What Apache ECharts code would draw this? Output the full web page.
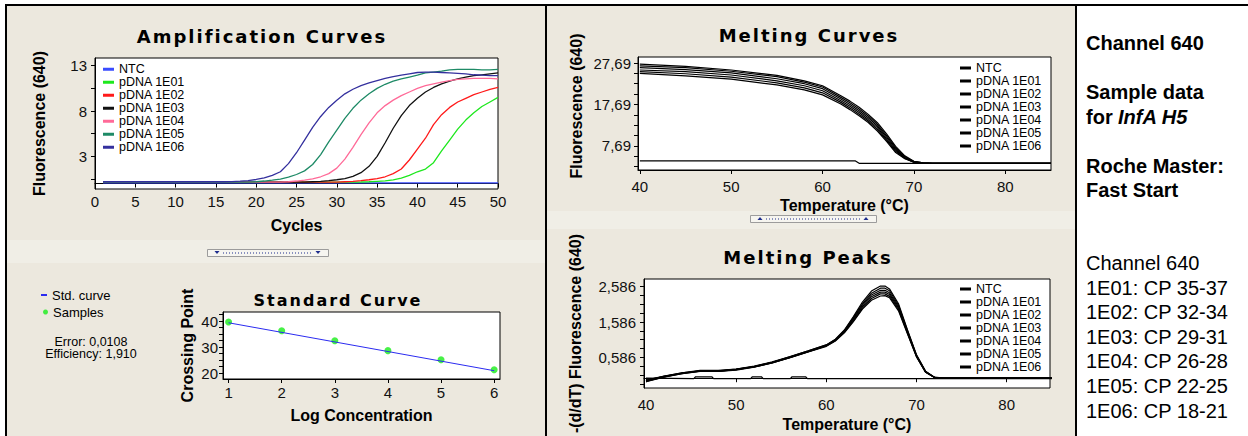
<!DOCTYPE html>
<html>
<head>
<meta charset="utf-8">
<title>InfA H5 - Channel 640</title>
<script src="https://cdn.jsdelivr.net/npm/echarts@6/dist/echarts.min.js"></script>
<style>
html, body { margin: 0; padding: 0; background: #fff; }
#chart { width: 1248px; height: 436px; }
/* panel titles are letter-spaced like the LightCycler software */
#chart text[style*="DejaVu"] { letter-spacing: 2px; }
</style>
</head>
<body>
<div id="chart"></div>
<script>
// ---- amplification (fluorescence per cycle) ----
var cycles = [1,2,3,4,5,6,7,8,9,10,11,12,13,14,15,16,17,18,19,20,
  21,22,23,24,25,26,27,28,29,30,31,32,33,34,35,36,37,38,39,40,
  41,42,43,44,45,46,47,48,49,50];
var sampleNames = ['NTC', 'pDNA 1E01', 'pDNA 1E02', 'pDNA 1E03', 'pDNA 1E04', 'pDNA 1E05', 'pDNA 1E06'];

var ampNtc = [0.08,0.08,0.08,0.08,0.08,0.08,0.08,0.08,0.08,0.08,
  0.08,0.08,0.08,0.08,0.08,0.08,0.08,0.08,0.08,0.08,
  0.08,0.08,0.08,0.08,0.08,0.08,0.08,0.08,0.08,0.08,
  0.08,0.08,0.08,0.08,0.08,0.08,0.08,0.08,0.08,0.08,
  0.08,0.08,0.08,0.08,0.08,0.08,0.08,0.08,0.08,0.08];
var amp1E01 = [0.15,0.15,0.15,0.15,0.15,0.15,0.15,0.15,0.15,0.15,
  0.15,0.15,0.15,0.15,0.15,0.15,0.15,0.15,0.15,0.15,
  0.15,0.15,0.15,0.15,0.15,0.15,0.15,0.15,0.15,0.15,
  0.15,0.15,0.17,0.2,0.25,0.3,0.4,0.6,0.9,1.3,
  1.6,2.3,3.6,4.8,6.0,7.0,7.8,8.5,9.0,9.5];
var amp1E02 = [0.15,0.15,0.15,0.15,0.15,0.15,0.15,0.15,0.15,0.15,
  0.15,0.15,0.15,0.15,0.15,0.15,0.15,0.15,0.15,0.15,
  0.15,0.15,0.15,0.15,0.15,0.15,0.15,0.15,0.15,0.15,
  0.2,0.25,0.32,0.42,0.55,0.75,1.1,1.6,2.6,3.8,
  5.0,6.5,7.6,8.4,9.0,9.4,9.8,10.1,10.4,10.6];
var amp1E03 = [0.15,0.15,0.15,0.15,0.15,0.15,0.15,0.15,0.15,0.15,
  0.15,0.15,0.15,0.15,0.15,0.15,0.15,0.15,0.15,0.15,
  0.15,0.15,0.15,0.15,0.15,0.15,0.2,0.25,0.32,0.42,
  0.55,0.8,1.2,1.9,3.0,4.5,6.1,7.5,8.6,9.4,
  10.1,10.6,11.0,11.3,11.55,11.75,11.9,12.0,12.1,12.2];
var amp1E04 = [0.15,0.15,0.15,0.15,0.15,0.15,0.15,0.15,0.15,0.15,
  0.15,0.15,0.15,0.15,0.15,0.15,0.15,0.15,0.15,0.15,
  0.15,0.15,0.15,0.2,0.28,0.38,0.52,0.75,1.1,1.7,
  2.7,4.0,5.4,6.7,7.8,8.6,9.2,9.7,10.1,10.5,
  10.8,11.0,11.2,11.35,11.5,11.55,11.6,11.6,11.6,11.55];
var amp1E05 = [0.15,0.15,0.15,0.15,0.15,0.15,0.15,0.15,0.15,0.15,
  0.15,0.15,0.15,0.15,0.15,0.15,0.15,0.15,0.15,0.2,
  0.28,0.38,0.5,0.7,1.0,1.4,2.1,3.2,4.6,5.9,
  7.2,8.3,9.2,9.9,10.5,10.95,11.3,11.55,11.75,11.95,
  12.2,12.3,12.4,12.55,12.6,12.6,12.6,12.55,12.55,12.6];
var amp1E06 = [0.2,0.2,0.2,0.2,0.2,0.2,0.2,0.2,0.2,0.2,
  0.2,0.2,0.2,0.2,0.2,0.2,0.22,0.26,0.33,0.45,
  0.62,0.9,1.3,2.2,3.4,4.8,6.2,7.4,8.4,9.2,
  9.9,10.4,10.8,11.1,11.35,11.6,11.8,11.95,12.1,12.25,
  12.3,12.3,12.25,12.2,12.15,12.1,12.0,11.95,11.9,11.9];

// ---- standard curve ----
var logConc = [1, 2, 3, 4, 5, 6];
var crossingPoints = [39.73, 36.29, 32.47, 28.64, 25.1, 21.26];
var stdLineX = [1, 6];
var stdLineY = [39.4, 20.9];
var stdError = '0,0108';
var stdEfficiency = '1,910';

// ---- melting curves ----
var meltTemps = [40, 45, 50, 55, 58, 60, 62, 63, 64, 65, 66, 67, 68, 69, 70, 71, 72, 75, 80, 85];
var meltNtcTemps = [40, 63.6, 64, 85];
var meltNtc = [4.07, 4.07, 3.5, 3.5];
var melt1E01 = [27.4, 26.9, 26.0, 24.7, 23.4, 22.2, 19.8, 18.5, 17.0, 15.3, 13.3, 10.6, 7.6, 5.3, 4.0, 3.6, 3.5, 3.5, 3.5, 3.5];
var melt1E02 = [27.0, 26.6, 25.7, 24.4, 23.1, 21.9, 19.4, 18.1, 16.6, 14.9, 12.9, 10.2, 7.3, 5.1, 3.9, 3.6, 3.5, 3.5, 3.5, 3.5];
var melt1E03 = [26.6, 26.1, 25.3, 23.9, 22.7, 21.5, 19.0, 17.7, 16.2, 14.5, 12.5, 9.8, 7.0, 4.9, 3.9, 3.6, 3.5, 3.5, 3.5, 3.5];
var melt1E04 = [26.0, 25.6, 24.8, 23.4, 22.2, 21.0, 18.6, 17.25, 15.75, 14.05, 12.1, 9.4, 6.7, 4.8, 3.8, 3.55, 3.5, 3.5, 3.5, 3.5];
var melt1E05 = [25.6, 25.1, 24.3, 22.9, 21.7, 20.5, 18.2, 16.85, 15.35, 13.7, 11.7, 9.1, 6.4, 4.7, 3.8, 3.55, 3.5, 3.5, 3.5, 3.5];
var melt1E06 = [25.2, 24.6, 23.8, 22.4, 21.2, 20.0, 17.8, 16.45, 14.95, 13.35, 11.3, 8.8, 6.1, 4.6, 3.8, 3.5, 3.5, 3.5, 3.5, 3.5];

// ---- melting peaks (-d/dT) ----
var peakTemps = [40, 42, 44, 46, 48, 50, 52, 54, 56, 58, 60, 61, 62, 63, 64, 65, 66, 66.5, 67, 68, 69, 70, 71, 72, 73, 75, 80, 85];
var peakNtcTemps = [40, 45.3, 45.5, 47.3, 47.5, 51.6, 51.8, 52.8, 53, 56, 56.2, 57.7, 57.9, 85];
var peakNtc = [0.0, -0.01, 0.04, 0.04, -0.01, -0.01, 0.04, 0.04, -0.01, -0.01, 0.04, 0.04, -0.01, -0.01];
var peak1E01 = [-0.05, 0.06, 0.15, 0.22, 0.22, 0.26, 0.34, 0.46, 0.61, 0.77, 0.94, 1.1, 1.36, 1.74, 2.15, 2.46, 2.6, 2.6, 2.52, 2.1, 1.36, 0.66, 0.2, 0.03, 0, 0, 0, 0];
var peak1E02 = [-0.06, 0.05, 0.15, 0.21, 0.21, 0.26, 0.33, 0.45, 0.61, 0.77, 0.94, 1.09, 1.35, 1.71, 2.1, 2.4, 2.54, 2.54, 2.47, 2.06, 1.34, 0.65, 0.19, 0.02, 0, 0, 0, 0];
var peak1E03 = [-0.07, 0.05, 0.14, 0.21, 0.2, 0.25, 0.33, 0.45, 0.6, 0.76, 0.93, 1.08, 1.33, 1.68, 2.06, 2.35, 2.48, 2.48, 2.41, 2.02, 1.31, 0.63, 0.18, 0.02, 0, 0, 0, 0];
var peak1E04 = [-0.08, 0.04, 0.14, 0.2, 0.2, 0.24, 0.32, 0.44, 0.59, 0.75, 0.92, 1.07, 1.31, 1.65, 2.02, 2.3, 2.43, 2.43, 2.36, 1.98, 1.29, 0.62, 0.18, 0.02, 0, 0, 0, 0];
var peak1E05 = [-0.09, 0.04, 0.13, 0.2, 0.19, 0.24, 0.32, 0.43, 0.59, 0.75, 0.91, 1.06, 1.3, 1.62, 1.98, 2.25, 2.38, 2.38, 2.31, 1.94, 1.27, 0.61, 0.17, 0.02, 0, 0, 0, 0];
var peak1E06 = [-0.1, 0.03, 0.13, 0.19, 0.19, 0.23, 0.31, 0.43, 0.58, 0.74, 0.9, 1.05, 1.28, 1.6, 1.95, 2.2, 2.32, 2.33, 2.27, 1.9, 1.25, 0.6, 0.17, 0.02, 0, 0, 0, 0];

// ---- tick labels ----
var ampXTicks = [0, 5, 10, 15, 20, 25, 30, 35, 40, 45, 50];
var ampYLabels = [3, 8, 13];
var ampYTicks = [0.5, 3, 5.5, 8, 10.5, 13];
var stdXTicks = [1, 2, 3, 4, 5, 6];
var stdYLabels = [20, 30, 40];
var stdYTicks = [20, 22.5, 25, 27.5, 30, 32.5, 35, 37.5, 40, 42.5];
var tempTicks = [40, 50, 60, 70, 80];
var meltYLabels = [7.69, 17.69, 27.69];
var meltYTicks = [2.69, 5.19, 7.69, 10.19, 12.69, 15.19, 17.69, 20.19, 22.69, 25.19, 27.69];
var peakYLabels = [0.586, 1.586, 2.586];
var peakYTicks = [-0.164, 0.086, 0.336, 0.586, 0.836, 1.086, 1.336, 1.586, 1.836, 2.086, 2.336, 2.586];

// ---- side notes ----
var notesBold = ['Channel 640', 'Sample data', 'for ', 'Roche Master:', 'Fast Start'];
var notesPlain = ['Channel 640', '1E01: CP 35-37', '1E02: CP 32-34', '1E03: CP 29-31', '1E04: CP 26-28', '1E05: CP 22-25', '1E06: CP 18-21'];

var ampColors = ['#3a4cff', '#1ee81e', '#ff1a1a', '#111111', '#ff6a98', '#1e8a66', '#34309e'];
var beige = '#ECE8DE';
var FONT = 'Liberation Sans';

function pairs(xs, ys) {
  return xs.map(function (x, i) { return [x, ys[i]]; });
}
function comma(v) { return String(v).replace('.', ','); }

function axis(gridIndex, min, max, labels, ticks, name, nameGap, margin, extra) {
  var a = {
    type: 'value', gridIndex: gridIndex, min: min, max: max,
    name: name, nameLocation: 'middle', nameGap: nameGap,
    nameTextStyle: { fontFamily: FONT, fontWeight: 'bold', fontSize: 16, color: '#000' },
    axisLine: { show: true, lineStyle: { color: '#000', width: 1 } },
    axisTick: { show: true, length: 4, customValues: ticks, lineStyle: { color: '#000' } },
    axisLabel: { show: true, margin: margin, customValues: labels, fontFamily: FONT, fontSize: 15, color: '#111' },
    splitLine: { show: false }
  };
  if (extra) {
    Object.keys(extra).forEach(function (k) {
      a[k] = Object.assign({}, a[k] || {}, extra[k]);
    });
  }
  return a;
}

function lineSeries(name, x, y, data, color, width) {
  return {
    type: 'line', name: name, xAxisIndex: x, yAxisIndex: y, data: data,
    showSymbol: false, silent: true, animation: false,
    lineStyle: { color: color, width: width }, itemStyle: { color: color }
  };
}

var ampValues = [ampNtc, amp1E01, amp1E02, amp1E03, amp1E04, amp1E05, amp1E06];
var meltValues = [melt1E01, melt1E02, melt1E03, melt1E04, melt1E05, melt1E06];
var peakValues = [peak1E01, peak1E02, peak1E03, peak1E04, peak1E05, peak1E06];

var series = [];
sampleNames.forEach(function (n, i) {
  series.push(lineSeries(n, 0, 0, pairs(cycles, ampValues[i]), ampColors[i], 1.3));
});
series.push(lineSeries('Std. curve', 1, 1, pairs(stdLineX, stdLineY), '#2b2bf0', 1));
series.push({
  type: 'scatter', name: 'Samples', xAxisIndex: 1, yAxisIndex: 1,
  data: pairs(logConc, crossingPoints), symbol: 'circle', symbolSize: 7,
  itemStyle: { color: '#19ee19' }, silent: true, animation: false
});
series.push(lineSeries('NTC', 2, 2, pairs(meltNtcTemps, meltNtc), '#000', 1.2));
sampleNames.slice(1).forEach(function (n, i) {
  series.push(lineSeries(n, 2, 2, pairs(meltTemps, meltValues[i]), '#000', 1.2));
});
series.push(lineSeries('NTC', 3, 3, pairs(peakNtcTemps, peakNtc), '#000', 1.2));
sampleNames.slice(1).forEach(function (n, i) {
  series.push(lineSeries(n, 3, 3, pairs(peakTemps, peakValues[i]), '#000', 1.2));
});

function sampleLegend(left, top, black, rowH) {
  return {
    orient: 'vertical', left: left, top: top, padding: 0, itemGap: 0,
    icon: 'rect', itemWidth: 11, itemHeight: 3, selectedMode: false,
    textStyle: { fontFamily: FONT, fontSize: 12.5, lineHeight: rowH, color: '#000' },
    data: sampleNames.map(function (n) {
      return black ? { name: n, itemStyle: { color: '#000' } } : { name: n };
    })
  };
}

function title(text, x, y, size) {
  return {
    type: 'text', z: 100,
    style: {
      text: text, x: x, y: y, fill: '#000',
      font: 'bold ' + size + 'px "DejaVu Sans"',
      align: 'center', verticalAlign: 'middle', textAlign: 'center', textVerticalAlign: 'middle'
    }
  };
}
function note(text, x, y, font, align) {
  align = align || 'left';
  return {
    type: 'text', z: 100,
    style: {
      text: text, x: x, y: y, fill: '#000', font: font,
      align: align, verticalAlign: 'middle', textAlign: align, textVerticalAlign: 'middle'
    }
  };
}
function block(x, y, w, h, fill, z) {
  return { type: 'rect', z: z, shape: { x: x, y: y, width: w, height: h }, style: { fill: fill } };
}
function splitter(x, y, w, up) {
  var tri = function (cx) {
    var cy = y + 3.5;
    var pts = up ? [[cx - 2.5, cy + 1.5], [cx + 2.5, cy + 1.5], [cx, cy - 1.5]]
                 : [[cx - 2.5, cy - 1.5], [cx + 2.5, cy - 1.5], [cx, cy + 1.5]];
    return { type: 'polygon', z: 101, shape: { points: pts }, style: { fill: '#1d2c8c' } };
  };
  return [
    { type: 'rect', z: 100, shape: { x: x + 0.5, y: y + 0.5, width: w, height: 7 },
      style: { fill: '#F6F5F0', stroke: '#9c9c9c', lineWidth: 1 } },
    tri(x + 10), tri(x + w - 10),
    { type: 'line', z: 101, shape: { x1: x + 16, y1: y + 4, x2: x + w - 16, y2: y + 4 },
      style: { stroke: '#1d2c8c', lineWidth: 1, lineDash: [1, 2] } }
  ];
}

var graphics = [
  block(7, 6, 538, 430, beige, -100),
  block(547, 6, 528, 430, beige, -100),
  block(7, 240, 538, 23, '#F0EEE6', -99),
  block(547, 211, 528, 18, '#F0EEE6', -99),
  block(5, 4, 1243, 2, '#000', 100),
  block(5, 4, 2, 432, '#000', 100),
  block(545, 4, 2, 432, '#000', 100),
  block(1075, 4, 2, 432, '#000', 100),
  title('Amplification Curves', 262, 36, 18),
  title('Standard Curve', 338, 300, 16),
  title('Melting Curves', 809, 35, 18),
  title('Melting Peaks', 808, 257, 18),
  note('Error: ' + stdError, 91, 341.5, '12.5px "Liberation Sans"', 'center'),
  note('Efficiency: ' + stdEfficiency, 91, 354, '12.5px "Liberation Sans"', 'center'),
  note(notesBold[0], 1086, 43, 'bold 20px "Liberation Sans"'),
  note(notesBold[1], 1086, 92, 'bold 20px "Liberation Sans"'),
  note(notesBold[2], 1086, 117, 'bold 20px "Liberation Sans"'),
  note('InfA H5', 1118, 117, 'italic bold 20px "Liberation Sans"'),
  note(notesBold[3], 1086, 166, 'bold 20px "Liberation Sans"'),
  note(notesBold[4], 1086, 190, 'bold 20px "Liberation Sans"')
].concat(splitter(207, 249, 121, false), splitter(750, 215, 126, true));

notesPlain.forEach(function (t, i) {
  graphics.push(note(t, 1086, 263 + i * 24.6, '20px "Liberation Sans"'));
});

var option = {
  backgroundColor: '#fff',
  animation: false,
  textStyle: { fontFamily: FONT },
  grid: [
    { left: 95, top: 58, width: 403, height: 131 },
    { left: 223, top: 312, width: 277, height: 67 },
    { left: 638, top: 57, width: 413, height: 113 },
    { left: 644, top: 279, width: 406, height: 109 }
  ].map(function (g) {
    return Object.assign(g, { show: true, backgroundColor: '#fff', borderColor: '#000', borderWidth: 1, outerBoundsMode: 'none' });
  }),
  xAxis: [
    axis(0, 0, 50, ampXTicks, ampXTicks, 'Cycles', 28, 5),
    axis(1, 0.895, 6.11, stdXTicks, stdXTicks, 'Log Concentration', 28, 6),
    axis(2, 39.8, 85, tempTicks, tempTicks, 'Temperature (°C)', 27, 8.5),
    axis(3, 39.78, 84.8, tempTicks, tempTicks, 'Temperature (°C)', 28, 8.5)
  ],
  yAxis: [
    axis(0, -0.6, 13.85, ampYLabels, ampYTicks, 'Fluorescence (640)', 48, 8),
    axis(1, 17.7, 43.56, stdYLabels, stdYTicks, 'Crossing Point', 28, 5),
    axis(2, 1.89, 29.14, meltYLabels, meltYTicks, 'Fluorescence (640)', 54, 7,
      { axisLabel: { formatter: comma }, nameTextStyle: { padding: [0, 0, 0, 15] } }),
    axis(3, -0.276, 2.8, peakYLabels, peakYTicks, '-(d/dT) Fluorescence (640)', 61, 8,
      { axisLabel: { formatter: comma } })
  ],
  legend: [
    sampleLegend(103, 62.75, false, 12.5),
    sampleLegend(960, 61.5, true, 12.7),
    sampleLegend(960, 282.5, true, 12.7),
    {
      orient: 'vertical', left: 41, top: 288.5, padding: 0, icon: 'rect',
      itemWidth: 6, itemHeight: 2, selectedMode: false, data: ['Std. curve'],
      textStyle: { fontFamily: FONT, fontSize: 13, lineHeight: 13, color: '#000' }
    },
    {
      orient: 'vertical', left: 43, top: 305.5, padding: 0, icon: 'circle',
      itemWidth: 5, itemHeight: 5, selectedMode: false, data: ['Samples'],
      textStyle: { fontFamily: FONT, fontSize: 13, lineHeight: 13, color: '#000' }
    }
  ],
  graphic: graphics,
  series: series
};

var myChart = echarts.init(document.getElementById('chart'), null, { renderer: 'svg' });
option && myChart.setOption(option);
</script>
</body>
</html>
